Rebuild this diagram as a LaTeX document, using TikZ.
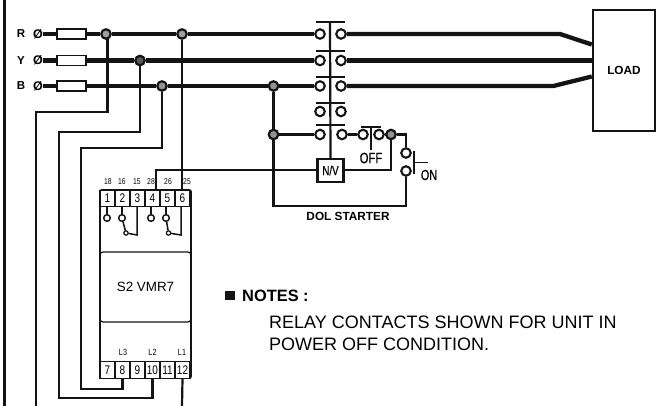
\documentclass[tikz,border=0pt]{standalone}
\usepackage{fontspec}
\setmainfont{Liberation Sans}
\newfontfamily\narrowfont[FakeStretch=0.8]{Liberation Sans}
\newfontfamily\narrowboldfont[FakeStretch=0.75,FakeBold=0.4]{Liberation Sans}
\usetikzlibrary{backgrounds,calc}
\newcommand{\fsz}[1]{\fontsize{#1}{#1}\selectfont}
\definecolor{ink}{HTML}{141414}
\tikzset{
  bus/.style={draw=ink,line width=4.3pt},
  wire/.style={draw=ink,line width=2.2pt,line join=miter},
  thin wire/.style={draw=ink,line width=1.5pt},
  term/.style={circle,draw=ink,fill=white,line width=2.1pt,minimum size=9.5pt,inner sep=0pt},
  smallterm/.style={circle,draw=ink,fill=white,line width=1.3pt,minimum size=6.5pt,inner sep=0pt},
  tinyterm/.style={circle,draw=ink,fill=white,line width=1.1pt,minimum size=4.2pt,inner sep=0pt},
  junction/.style={circle,draw=ink,fill=#1,line width=2.2pt,minimum size=9.5pt,inner sep=0pt},
  fuse/.style={rectangle,draw=ink,fill=white,line width=1.2pt,minimum width=29pt,minimum height=10pt,inner sep=0pt},
  pin/.style={rectangle,draw=ink,fill=white,line width=1.3pt,minimum width=15pt,minimum height=16.5pt,inner sep=0pt,font=\fsz{12.5}\narrowfont},
  pinlabel/.style={inner sep=0pt,font=\fsz{8.5}\narrowfont},
  busname/.style={inner sep=0pt,font=\fsz{11.5}\bfseries},
  notetext/.style={inner sep=0pt,anchor=base west,font=\fsz{18}},
}
\begin{document}
\begin{tikzpicture}[x=1pt,y=-1pt]
\useasboundingbox (0,0) rectangle (662,406);
% free ends
\coordinate (bt) at (4.5,0); \coordinate (bb) at (4.5,406);
\coordinate (endR) at (36,406); \coordinate (end12) at (182,406);
% labels and terminals
\node[busname] (lR) at (21,34) {R};
\node[busname] (lY) at (21,60.5) {Y};
\node[busname] (lB) at (21,86) {B};
\node[inner sep=0pt,font=\fsz{12.5}\bfseries] (oR) at (38,34) {Ø};
\node[inner sep=0pt,font=\fsz{12.5}\bfseries] (oY) at (38,60.5) {Ø};
\node[inner sep=0pt,font=\fsz{12.5}\bfseries] (oB) at (38,86) {Ø};
\node[fuse] (fR) at (71.5,34) {};
\node[fuse] (fY) at (71.5,60.5) {};
\node[fuse] (fB) at (71.5,86) {};
\node[junction={gray!75}] (jR1) at (106,34) {};
\node[junction={gray!75}] (jR2) at (182,34) {};
\node[junction={black!65}] (jY) at (140,60.5) {};
\node[junction={gray!85}] (jB) at (162,86) {};
\node[junction={gray!85}] (jB2) at (273.5,86) {};
\node[junction={gray!85}] (jA) at (273.5,134.5) {};
\node[junction={gray!85}] (jC) at (391,134.5) {};
% contactor
\foreach \n/\y in {1/34,2/60.5,3/86,4/111.5,5/134.5}{
  \node[term] (cl\n) at (320,\y) {};
}
\foreach \n/\y in {1/34,2/60.5,3/86,4/111.5}{
  \node[term] (cr\n) at (341,\y) {};
}
\node[term] (cr5) at (342,134.5) {};
\node[term] (off1) at (363,134.5) {};
\node[term] (off2) at (379,134.5) {};
\node[term] (on1) at (406,153) {};
\node[term] (on2) at (406,171) {};
\node[rectangle,draw=ink,fill=white,line width=2.2pt,minimum width=26pt,minimum height=23pt,inner sep=0pt,font=\fsz{13}\narrowboldfont] (nv) at (330.5,170.5) {N/V};
\node[inner sep=0pt,font=\fsz{15}\narrowboldfont] (offt) at (371,158) {OFF};
\node[inner sep=0pt,font=\fsz{14.5}\narrowboldfont] (ont) at (429,175) {ON};
\node[inner sep=0pt,font=\fsz{11.8}\bfseries] (dol) at (348,216) {DOL STARTER};
% load
\node[rectangle,draw=ink,fill=white,line width=2.5pt,minimum width=62pt,minimum height=121pt,inner sep=0pt,font=\fsz{11.8}\bfseries] (load) at (624,70.5) {LOAD};
% relay
\node[rectangle,draw=ink,line width=1.9pt,rounded corners=2pt,fill=white,minimum width=91pt,minimum height=188pt,inner sep=0pt] (relay) at (145.5,284) {};
\node[rectangle,draw=ink,line width=1.2pt,rounded corners=3pt,minimum width=91pt,minimum height=70pt,inner sep=0pt,font=\fsz{13.4}] (disp) at (145.5,287) {S2 VMR7};
\foreach \n [count=\i from 0] in {1,...,6}{
  \node[pin] (p\n) at (107.5+15*\i,198.5) {\n};
}
\foreach \n [count=\i from 0] in {7,...,12}{
  \node[pin] (p\n) at (107.5+15*\i,370) {\n};
}
\node[pinlabel] (t18) at (108,182) {18};
\node[pinlabel] (t16) at (122,182) {16};
\node[pinlabel] (t15) at (137,182) {15};
\node[pinlabel] (t28) at (151,182) {28};
\node[pinlabel] (t26) at (168,182) {26};
\node[pinlabel] (t25) at (187,182) {25};
\node[pinlabel,font=\fsz{9}\narrowfont] (tL3) at (123,352.5) {L3};
\node[pinlabel,font=\fsz{9}\narrowfont] (tL2) at (152.5,352.5) {L2};
\node[pinlabel,font=\fsz{9}\narrowfont] (tL1) at (182,352.5) {L1};
\node[smallterm] (k1) at (107,218) {};
\node[smallterm] (k2) at (122,218) {};
\node[tinyterm] (k3) at (126,233) {};
\node[smallterm] (k4) at (151,218) {};
\node[smallterm] (k5) at (166,218) {};
\node[tinyterm] (k6) at (168.5,233) {};
% notes
\node[rectangle,fill=ink,minimum width=10pt,minimum height=9pt,inner sep=0pt] (sq) at (229.5,295.5) {};
\node[inner sep=0pt,anchor=base west,font=\fsz{16.4}\bfseries] (notes) at (242,302) {NOTES :};
\node[notetext] (n1) at (269,328.5) {RELAY CONTACTS SHOWN FOR UNIT IN};
\node[notetext] (n2) at (269,351) {POWER OFF CONDITION.};
% contactor bars
\begin{scope}[on background layer]
\draw[wire] (bt) -- (bb);
% buses
\draw[bus] (oR.east) -- (fR) -- (jR1) -- (jR2) -- (cl1);
\draw[bus] (oY.east) -- (fY) -- (jY) -- (cl2);
\draw[bus] (oB.east) -- (fB) -- (jB) -- (jB2) -- (cl3);
\draw[bus] (cr1) -- (560,34) -- (load.west |- 0,44.5);
\draw[bus] (cr2) -- (load.west |- cr2);
\draw[bus] (cr3) -- (553.5,86) -- (load.west |- 0,76.5);
% phase drops
\draw[wire] (jR1.center -| 107.5,0) -- (107.5,112) -- (36,112) -- (endR);
\draw[wire] (jY) -- (140,132) -- (59,132) -- (59,398) -| (p10.south);
\draw[wire] (jB) -- (162,148) -- (81,148) -- (81,389) -| (p8.south);
\draw[wire] (jR2) -- (p6.north -| jR2);
\draw[wire] (p12.south) -- (end12);
\draw[wire] (p4.north -| 156,0) -- (156,170) -- (nv.west |- 0,170);
% starter control
\draw[wire] (jB2) -- (jA) -- (273.5,206) -| (on2);
\draw[wire] (jA) -- (cl5);
\draw[wire] (cr5) -- (off1);
\draw[wire] (off2) -- (jC);
\draw[wire] (jC) -| (on1);
\draw[wire] (jC) -- (391,170) -- (nv.east |- 0,170);
% bars
\draw[wire] (330,22) -- (nv.north);
\foreach \y in {22,51,77,103,125}{\draw[wire] (316,\y) -- (345,\y);}
\draw[thin wire] (361,127) -- (381,127);
\draw[thin wire] (371,127) -- (371,150);
\draw[wire] (414,151) -- (414,174);
\draw[thin wire] (414,162.5) -- (428,162.5);
\end{scope}
% relay internals
\draw[thin wire] (p1.south -| k1) -- (k1);
\draw[thin wire] (p2.south -| k2) -- (k2);
\draw[thin wire] (p4.south -| k4) -- (k4);
\draw[thin wire] (p5.south -| k5) -- (k5);
\draw[thin wire] (k2) -- (k3);
\draw[thin wire] (k5) -- (k6);
\draw[thin wire] (k3) -- (137,235) -- (137,207);
\draw[thin wire] (k6) -- (181,235) -- (181,207);
\node[smallterm] at (k1) {};
\node[smallterm] at (k2) {};
\node[smallterm] at (k4) {};
\node[smallterm] at (k5) {};
\node[tinyterm] at (k3) {};
\node[tinyterm] at (k6) {};
\end{tikzpicture}
\end{document}
